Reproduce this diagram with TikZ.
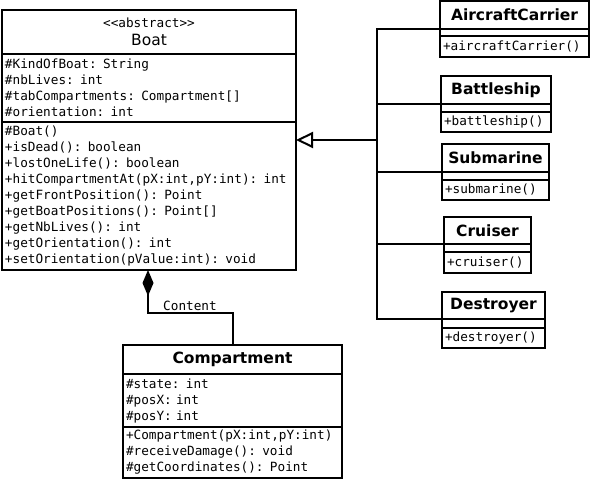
\documentclass[tikz,border=0pt]{standalone}
\usepackage{fontspec}
\setmainfont{DejaVu Sans}
\newfontfamily\umlsans{DejaVu Sans}
\newfontfamily\umlmono{DejaVu Sans Mono}
\usetikzlibrary{arrows.meta,positioning}
\newcommand\memfont{\umlmono\fontsize{12.7}{16}\selectfont}
\newcommand\namefont{\umlsans\fontsize{15.5}{18}\selectfont}
\begin{document}
\begin{tikzpicture}[x=1pt,y=-1pt,
    box/.style={draw,line width=2pt,anchor=north west,inner sep=0pt,outer sep=0pt},
    head/.style={box,font=\namefont\bfseries},
    part/.style={box,font=\memfont,align=left,inner xsep=3pt,text width=#1},
    wire/.style={line width=2pt},
    isa/.style={wire,-{Triangle[open,length=17pt,width=16pt]}},
    owns/.style={wire,{Diamond[length=26pt,width=11pt]}-}]
  \useasboundingbox (0,0) rectangle (591,481);
  % Boat
  \node (boat) [box,minimum width=294,minimum height=44,align=center,font=\namefont] at (2,10)
    {{\memfont\textless\textless abstract\textgreater\textgreater}\\Boat};
  \node (boatattr) [part=288pt,minimum height=68] at (boat.south west)
    {\#KindOfBoat: String\\\#nbLives: int\\\#tabCompartments: Compartment[]\\\#orientation: int};
  \node (boatops) [part=288pt,minimum height=148] at (boatattr.south west)
    {\#Boat()\\+isDead(): boolean\\+lostOneLife(): boolean\\+hitCompartmentAt(pX:int,pY:int): int\\
     +getFrontPosition(): Point\\+getBoatPositions(): Point[]\\+getNbLives(): int\\
     +getOrientation(): int\\+setOrientation(pValue:int): void};
  % subclasses
  \node (carrier) [head,minimum width=149,minimum height=28] at (440,1) {AircraftCarrier};
  \node (carrierattr) [box,minimum width=149,minimum height=7] at (carrier.south west) {};
  \node (carrierops) [part=143pt,minimum height=21] at (carrierattr.south west) {+aircraftCarrier()};
  \node (battle) [head,minimum width=110,minimum height=28] at (441,76) {Battleship};
  \node (battleattr) [box,minimum width=110,minimum height=8] at (battle.south west) {};
  \node (battleops) [part=104pt,minimum height=20] at (battleattr.south west) {+battleship()};
  \node (sub) [head,minimum width=107,minimum height=28] at (442,144) {Submarine};
  \node (subattr) [box,minimum width=107,minimum height=8] at (sub.south west) {};
  \node (subops) [part=101pt,minimum height=20] at (subattr.south west) {+submarine()};
  \node (cruiser) [head,minimum width=87,minimum height=27] at (444,217) {Cruiser};
  \node (cruiserattr) [box,minimum width=87,minimum height=8] at (cruiser.south west) {};
  \node (cruiserops) [part=81pt,minimum height=21] at (cruiserattr.south west) {+cruiser()};
  \node (destroyer) [head,minimum width=103,minimum height=27] at (442,292) {Destroyer};
  \node (destroyerattr) [box,minimum width=103,minimum height=9] at (destroyer.south west) {};
  \node (destroyerops) [part=97pt,minimum height=20] at (destroyerattr.south west) {+destroyer()};
  % Compartment
  \node (cmp) [head,minimum width=219,minimum height=29] at (123,345) {Compartment};
  \node (cmpattr) [part=213pt,minimum height=53] at (cmp.south west)
    {\#state: int\\\#posX: int\\\#posY: int};
  \node (cmpops) [part=213pt,minimum height=51] at (cmpattr.south west)
    {+Compartment(pX:int,pY:int)\\\#receiveDamage(): void\\\#getCoordinates(): Point};
  % inheritance
  \coordinate (hub) at (377,140);
  \draw[wire] (carrier.south west) -| (hub);
  \draw[wire] (battle.south west) -| (hub);
  \draw[wire] (sub.south west) -| (hub);
  \draw[wire] (cruiser.south west) -| (hub);
  \draw[wire] (destroyer.south west) -| (hub);
  \draw[isa] (hub) -- (hub -| boatops.east);
  % composition
  \coordinate (bend) at (148,313);
  \draw[owns] (boatops.south -| bend) -- (bend) -| (cmp.north);
  \node (content) [font=\memfont] at (190,306) {Content};
\end{tikzpicture}
\end{document}
